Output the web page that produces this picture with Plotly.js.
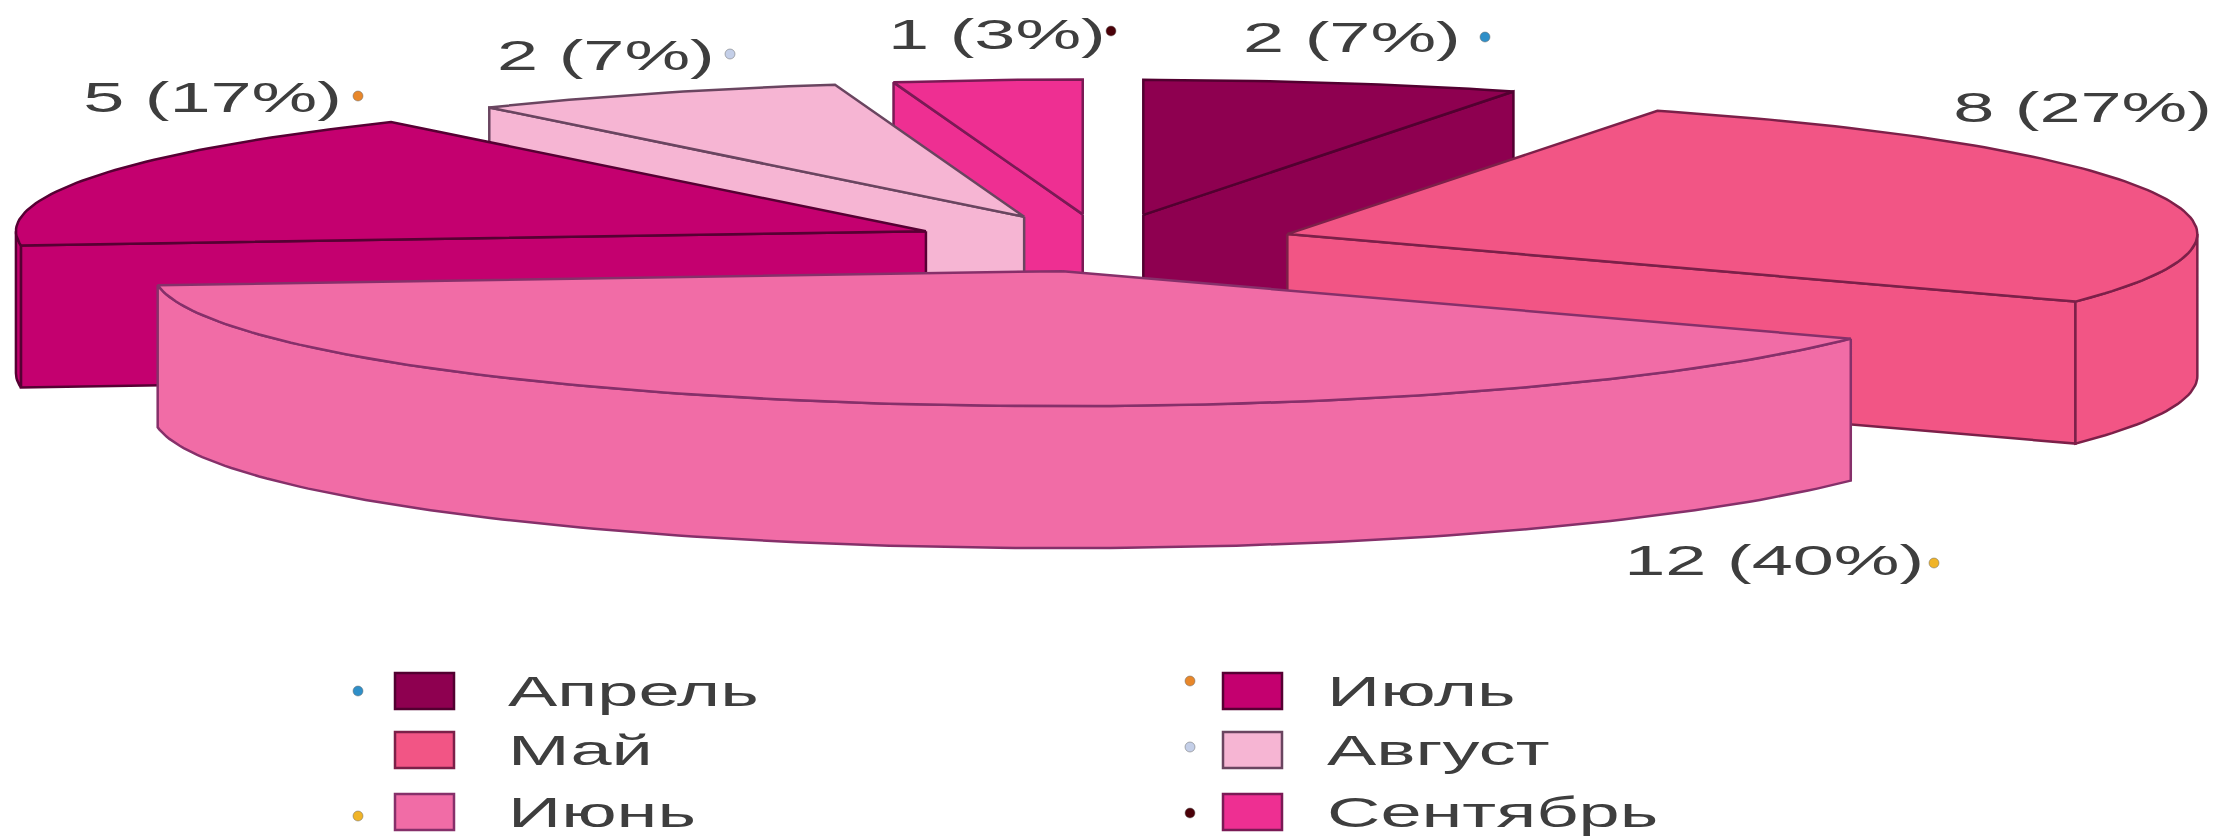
<!DOCTYPE html>
<html lang="ru">
<head>
<meta charset="utf-8">
<title>Распределение по месяцам</title>
<script src="https://cdn.plot.ly/plotly-3.0.1.min.js"></script>
<style>html,body{margin:0;padding:0;background:#fff}#chart{width:2219px;height:837px}</style>
</head>
<body>
<div id="chart"></div>
<script>
// Counts per month, clockwise from twelve o'clock
const months = ['Апрель', 'Май', 'Июнь', 'Июль', 'Август', 'Сентябрь'];
const counts = [2, 8, 12, 5, 2, 1];

// Slice styling
const fills = ['#8E0050', '#F25585', '#F16CA6', '#C4006F', '#F6B5D3', '#EE2F92'];
const edges = ['#520030', '#7C2049', '#86306A', '#560033', '#6A4560', '#7A1A55'];
const dotColors = ['#2F8FC8', null, '#F0B428', '#E8872A', '#C4CFE8', '#4A0008'];

// Projection of the tilted pie, in plot pixels
const pie = {cx: 1103, cy: 243, rx: 910, ry: 135, depth: 142, explode: 0.213};

// Placement of value labels and of the two-column key
const labelPos = [[1352, 37], [2082, 107], [1774, 560], [212, 97], [606, 55], [997, 34]];
const labelDots = [[1485, 37], null, [1934, 563], [358, 96], [730, 54], [1111, 31]];
const keyRows = [691, 750, 812];
const keySwatchX = [[395, 454], [1223, 1282]];
const keyTextX = [506, 1325];
const keyDotX = [358, 1190];
const keyDotRowShift = [[0, 0, 4], [-10, -3, 1]];

const total = counts.reduce((a, b) => a + b, 0);
const traces = [];
const annotations = [];
const shapes = [];
const textStyle = {family: '"Liberation Sans", Arial, sans-serif', size: 42, color: '#3E3E3E'};

function rad(d) { return d * Math.PI / 180; }

function sliceCentre(mid) {
  return {
    x: pie.cx + pie.explode * pie.rx * Math.sin(rad(mid)),
    y: pie.cy - pie.explode * pie.ry * Math.cos(rad(mid))
  };
}

function rimPoint(c, a, drop) {
  return [c.x + pie.rx * Math.sin(rad(a)), c.y - pie.ry * Math.cos(rad(a)) + drop];
}

function arc(c, from, to, drop) {
  const pts = [];
  const n = Math.max(2, Math.ceil(Math.abs(to - from)));
  for (let i = 0; i <= n; i++) pts.push(rimPoint(c, from + (to - from) * i / n, drop));
  return pts;
}

function face(pts, fill, edge) {
  traces.push({
    type: 'scatter', mode: 'lines', hoverinfo: 'skip', showlegend: false,
    x: pts.map(p => p[0]), y: pts.map(p => p[1]),
    fill: 'toself', fillcolor: fill,
    line: {color: edge, width: 2.5}
  });
}

// Work out each slice's angular span from the counts
let running = 0;
const slices = months.map((m, i) => {
  const a = running / total * 360;
  running += counts[i];
  const b = running / total * 360;
  const c = sliceCentre((a + b) / 2);
  return {i, a, b, c};
});

// Back slices are painted first so nearer ones cover them
slices.slice().sort((p, q) => p.c.y - q.c.y).forEach(s => {
  const {i, a, b, c} = s;
  const fill = fills[i], edge = edges[i];
  const apex = [c.x, c.y], apexLow = [c.x, c.y + pie.depth];

  if (Math.sin(rad(a)) < -1e-6) {
    face([apex, rimPoint(c, a, 0), rimPoint(c, a, pie.depth), apexLow, apex], fill, edge);
  }
  if (Math.sin(rad(b)) > 1e-6) {
    face([apex, rimPoint(c, b, 0), rimPoint(c, b, pie.depth), apexLow, apex], fill, edge);
  }
  // Outer wall: only the part of the rim facing the viewer
  const lo = Math.max(a, 90), hi = Math.min(b, 270);
  if (hi > lo) {
    face(arc(c, lo, hi, 0).concat(arc(c, hi, lo, pie.depth)).concat([rimPoint(c, lo, 0)]), fill, edge);
  }
  face([apex].concat(arc(c, a, b, 0)).concat([apex]), fill, edge);
});

// Value labels
months.forEach((m, i) => {
  annotations.push({
    xref: 'x', yref: 'y', x: labelPos[i][0], y: labelPos[i][1],
    text: counts[i] + ' (' + Math.round(counts[i] / total * 100) + '%)',
    showarrow: false, xanchor: 'center', yanchor: 'middle', font: textStyle
  });
});

// Key: three rows in two columns
months.forEach((m, i) => {
  const col = i < 3 ? 0 : 1, row = i % 3;
  const y = keyRows[row];
  shapes.push({
    type: 'rect', xref: 'x', yref: 'y',
    x0: keySwatchX[col][0], x1: keySwatchX[col][1], y0: y - 18, y1: y + 18,
    fillcolor: fills[i], line: {color: edges[i], width: 2.5}
  });
  annotations.push({
    xref: 'x', yref: 'y', x: keyTextX[col], y: y,
    text: m, showarrow: false, xanchor: 'left', yanchor: 'middle', font: textStyle
  });
});

// Small coloured markers beside labels and key entries
const dotX = [], dotY = [], dotC = [];
months.forEach((m, i) => {
  if (!dotColors[i]) return;
  const col = i < 3 ? 0 : 1, row = i % 3;
  dotX.push(labelDots[i][0], keyDotX[col]);
  dotY.push(labelDots[i][1], keyRows[row] + keyDotRowShift[col][row]);
  dotC.push(dotColors[i], dotColors[i]);
});
traces.push({
  type: 'scatter', mode: 'markers', hoverinfo: 'skip', showlegend: false,
  x: dotX, y: dotY,
  marker: {size: 10, color: dotC, line: {color: '#6b6b6b', width: 0.5}}
});

const hiddenAxis = {visible: false, fixedrange: true, showgrid: false, zeroline: false};
const layout = {
  width: 2219, height: 837, autosize: false, showlegend: false,
  margin: {l: 0, r: 0, t: 0, b: 0},
  paper_bgcolor: '#fff', plot_bgcolor: '#fff',
  xaxis: Object.assign({range: [0, 2219]}, hiddenAxis),
  yaxis: Object.assign({range: [837, 0]}, hiddenAxis),
  annotations, shapes
};

// The lettering is set wide: widen the glyphs horizontally once it is laid out.
// Text is centred on its x, so key entries are nudged to keep their left edge.
const TEXT_WIDEN = 1.76;
Plotly.newPlot('chart', traces, layout, {displayModeBar: false, staticPlot: true}).then(gd => {
  gd.querySelectorAll('.annotation').forEach(group => {
    const t = group.querySelector('.annotation-text');
    const width = t.getComputedTextLength();
    const extra = width * (TEXT_WIDEN - 1);
    t.setAttribute('lengthAdjust', 'spacingAndGlyphs');
    t.setAttribute('textLength', (width + extra).toFixed(1));
    if (Number(group.getAttribute('data-index')) >= months.length) {
      t.setAttribute('x', (parseFloat(t.getAttribute('x')) + extra / 2).toFixed(1));
    }
  });
});
</script>
</body>
</html>
